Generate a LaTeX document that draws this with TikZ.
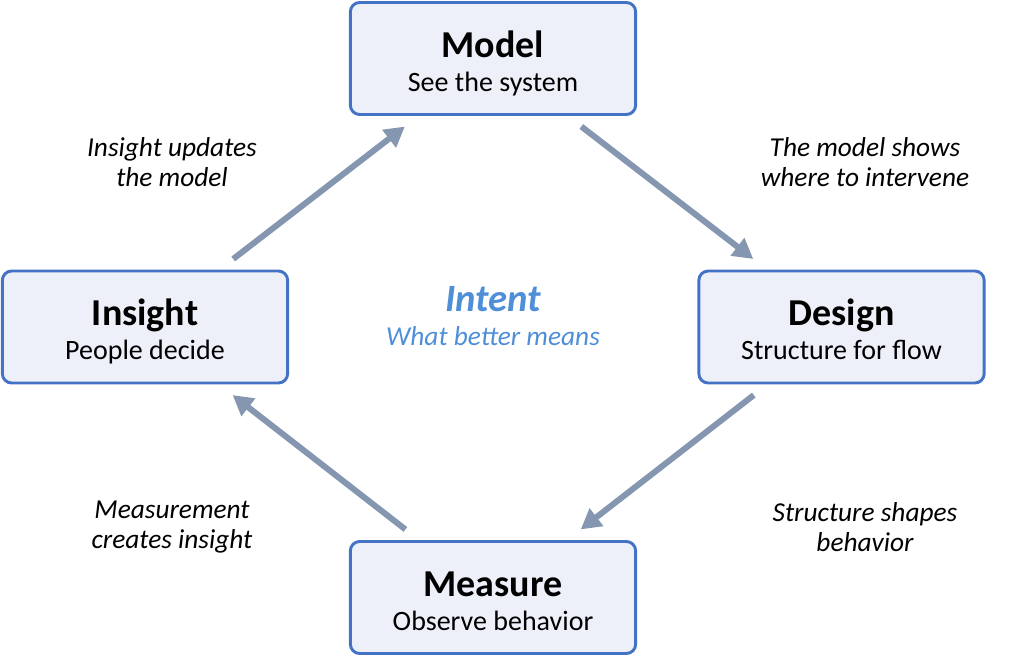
\documentclass[tikz,border=0pt]{standalone}
\usepackage{fontspec}
\setmainfont{Carlito}
\usetikzlibrary{arrows.meta}
\definecolor{boxborder}{HTML}{4472C4}
\definecolor{boxfill}{HTML}{EDF0F9}
\definecolor{arrowcol}{HTML}{8496B0}
\definecolor{intentblue}{HTML}{4F8FD8}
\newcommand{\stagetext}[2]{{\fontsize{28.5}{25.5}\selectfont\bfseries\rule{0pt}{27.5pt}\vphantom{Mdg}#1}\\{\fontsize{21}{25.5}\selectfont\vphantom{Mdg}#2}}
\begin{document}
\begin{tikzpicture}[x=0.75pt,y=-0.75pt,
  stagebox/.style={draw=boxborder, fill=boxfill, line width=2.2pt, rounded corners=7pt,
    minimum width=214pt, minimum height=84pt, align=center, inner sep=0pt,
    font=\fontsize{21}{25.5}\selectfont},
  flowarrow/.style={draw=arrowcol, line width=4.5pt, -{Triangle[length=15pt,width=16pt]},
    shorten <=13pt, shorten >=13pt},
  edgelabel/.style={font=\fontsize{20.5}{22.5}\selectfont\itshape, align=center, text=black},
  intentstyle/.style={align=center, text=intentblue, font=\fontsize{20.5}{25.5}\selectfont}]
\useasboundingbox (0,0) rectangle (1024,657);
\node[stagebox] (model)   at (493,58.5)  {\stagetext{Model}{See the system}};
\node[stagebox] (design)  at (841.5,327) {\stagetext{Design}{Structure for flow}};
\node[stagebox] (insight) at (145,327)   {\stagetext{Insight}{People decide}};
\node[stagebox] (measure) at (493,597.5) {\stagetext{Measure}{Observe behavior}};
\draw[flowarrow] (insight) -- (model);
\draw[flowarrow] (model) -- (design);
\draw[flowarrow] (design) -- (measure);
\draw[flowarrow] (measure) -- (insight);
\node[edgelabel] (l1) at (172,162) {Insight updates\\the model};
\node[edgelabel] (l2) at (865,162) {The model shows\\where to intervene};
\node[edgelabel] (l3) at (172,527) {Measurement\\creates insight};
\node[edgelabel] (l4) at (865,527) {Structure shapes\\behavior};
\node[intentstyle] (intent) at (493,316) {{\fontsize{29}{25.5}\selectfont\bfseries\itshape Intent}\\{\itshape What better means}};
\end{tikzpicture}
\end{document}
